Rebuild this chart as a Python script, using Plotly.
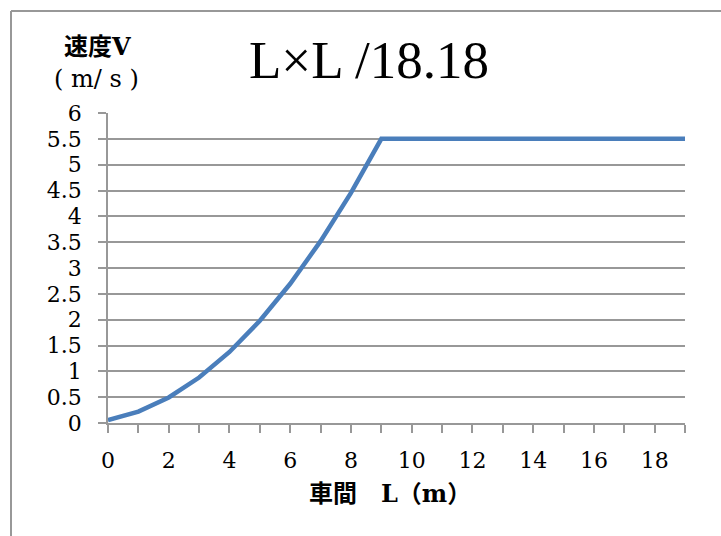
import plotly.graph_objects as go

# Vehicle spacing L (m) and resulting speed V (m/s)
spacing = [0, 1, 2, 3, 4, 5, 6, 7, 8, 9, 10, 11, 12, 13, 14, 15, 16, 17, 18, 19]
speed = [0.055, 0.22, 0.495, 0.88, 1.375, 1.98, 2.695, 3.52, 4.455, 5.5,
         5.5, 5.5, 5.5, 5.5, 5.5, 5.5, 5.5, 5.5, 5.5, 5.5]

x_ticks = list(range(0, 20))
x_labels = [str(v) if v % 2 == 0 else "" for v in x_ticks]
y_ticks = [i * 0.5 for i in range(13)]
y_labels = ["0", "0.5", "1", "1.5", "2", "2.5", "3", "3.5", "4", "4.5", "5", "5.5", "6"]

title_text = "L×L /18.18"
y_title_1 = "<b>速度V</b>"
y_title_2 = "( m/ s )"
x_title = "<b>車間　L（m）</b>"

W, H = 721, 536
ML, MR, MT, MB = 108, 36, 113, 113
PW, PH = W - ML - MR, H - MT - MB


def px(x):
    return (x - ML) / PW


def py(y):
    return (H - MB - y) / PH


grid = "#989898"
tick_font = dict(family="DejaVu Serif", size=22, color="#000000")
cjk_font = "DejaVu Serif, Noto Sans CJK JP"

fig = go.Figure()
fig.add_trace(go.Scatter(
    x=spacing, y=speed, mode="lines",
    line=dict(color="#4A7EBB", width=4.5),
    showlegend=False, hoverinfo="skip",
))

fig.update_layout(
    width=W, height=H,
    margin=dict(l=ML, r=MR, t=MT, b=MB),
    paper_bgcolor="white", plot_bgcolor="white",
    xaxis=dict(
        range=[0, 19], tickmode="array", tickvals=x_ticks, ticktext=x_labels,
        showgrid=False, zeroline=False,
        showline=True, linecolor=grid, linewidth=1.5,
        ticks="outside", ticklen=8, tickwidth=1.5, tickcolor=grid,
        tickfont=tick_font, ticklabelstandoff=9,
    ),
    yaxis=dict(
        range=[0, 6], tickmode="array", tickvals=y_ticks, ticktext=y_labels,
        showgrid=True, gridcolor=grid, gridwidth=1.5, zeroline=False,
        showline=True, linecolor=grid, linewidth=1.5,
        ticks="outside", ticklen=8, tickwidth=1.5, tickcolor=grid,
        tickfont=tick_font, ticklabelstandoff=12,
    ),
    shapes=[
        # outer chart border (left and top edges visible)
        dict(type="line", xref="paper", yref="paper",
             x0=px(11), y0=py(11), x1=px(760), y1=py(11),
             line=dict(color=grid, width=2), layer="below"),
        dict(type="line", xref="paper", yref="paper",
             x0=px(11), y0=py(11), x1=px(11), y1=py(560),
             line=dict(color=grid, width=2), layer="below"),
    ],
    annotations=[
        dict(text=title_text, xref="paper", yref="paper",
             x=px(369), y=py(60), xanchor="center", yanchor="middle",
             showarrow=False, font=dict(family="Liberation Serif", size=53, color="#000")),
        dict(text=y_title_1, xref="paper", yref="paper",
             x=px(97), y=py(46), xanchor="center", yanchor="middle",
             showarrow=False, font=dict(family=cjk_font, size=24, color="#000")),
        dict(text=y_title_2, xref="paper", yref="paper",
             x=px(96), y=py(79), xanchor="center", yanchor="middle",
             showarrow=False, font=dict(family=cjk_font, size=24, color="#000")),
        dict(text=x_title, xref="paper", yref="paper",
             x=px(390), y=py(493), xanchor="center", yanchor="middle",
             showarrow=False, font=dict(family=cjk_font, size=24, color="#000")),
    ],
)

fig.write_html("out.html")
